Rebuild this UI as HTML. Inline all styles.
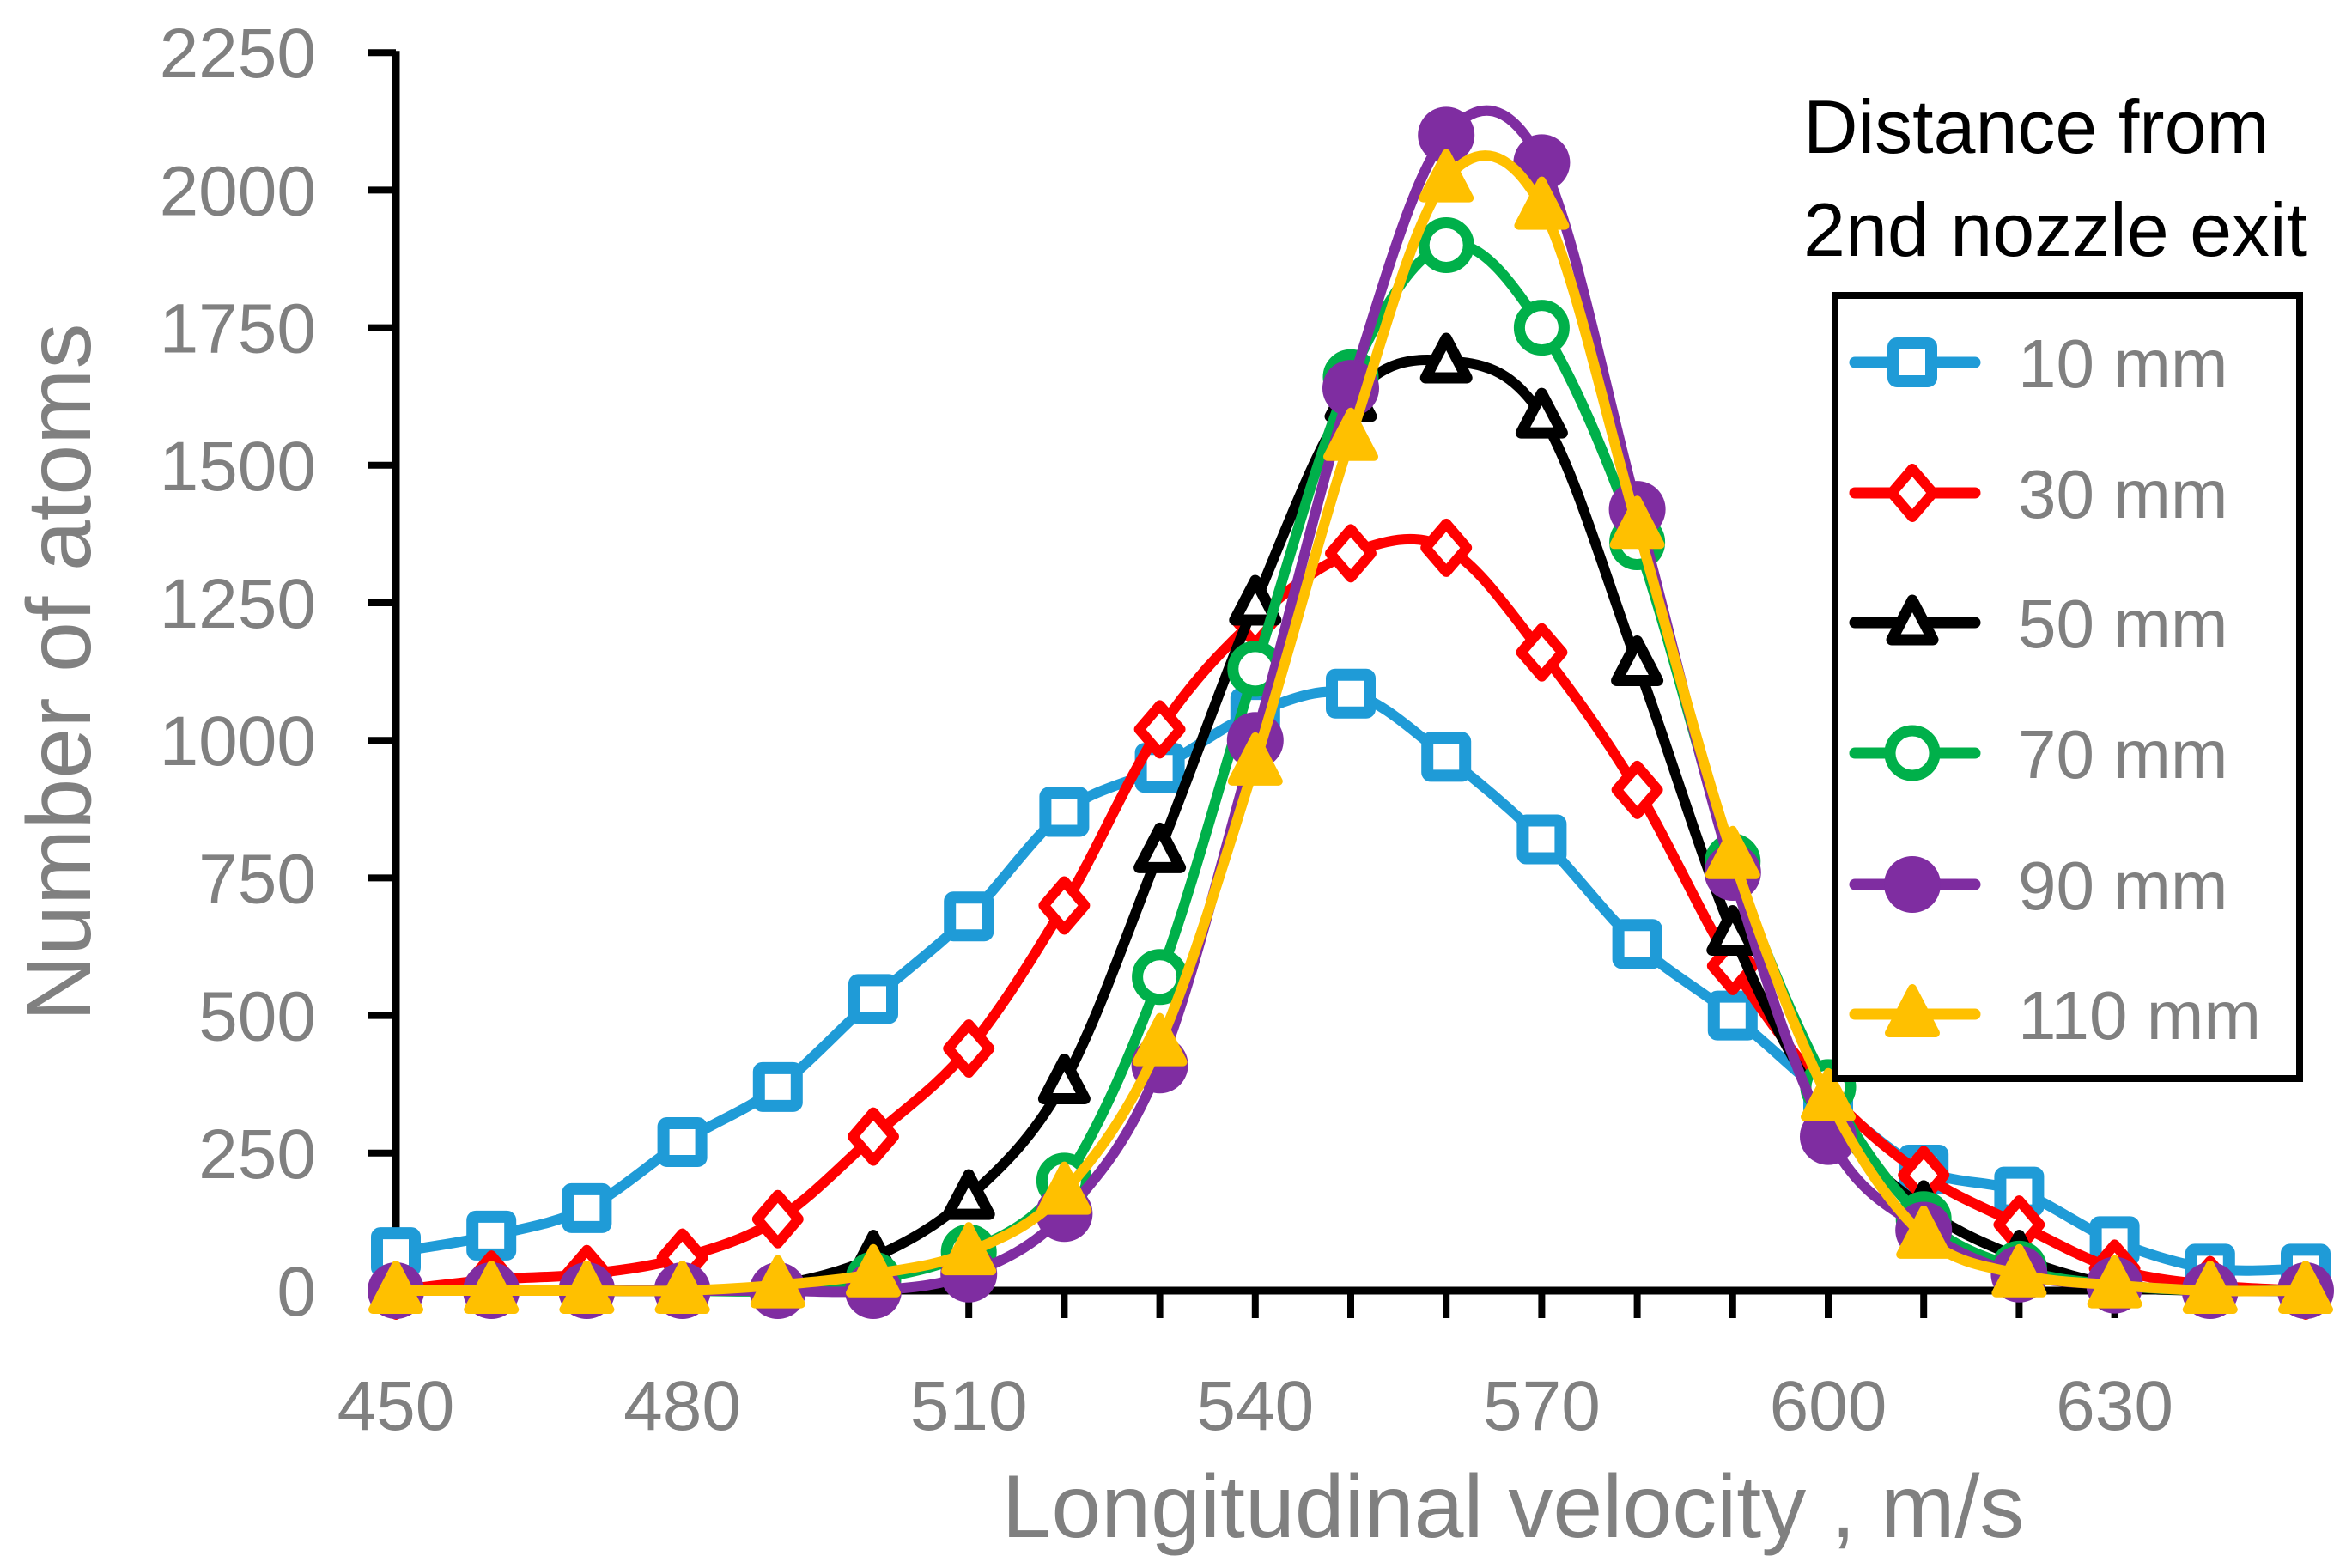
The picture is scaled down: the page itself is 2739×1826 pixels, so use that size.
<!DOCTYPE html>
<html><head><meta charset="utf-8"><style>
html,body{margin:0;padding:0;background:#fff;}
svg{display:block;font-family:"Liberation Sans",sans-serif;}
</style></head><body>
<svg id="chart" width="2739" height="1826" viewBox="0 0 2739 1826" xmlns="http://www.w3.org/2000/svg">
<g id="axes"></g>
<g id="series"></g>
<g id="legend"></g>
</svg>
<script>
const xValues = [450,460,470,480,490,500,510,520,530,540,550,560,570,580,590,600,610,620,630,640,650];
const seriesNames = ["10 mm","30 mm","50 mm","70 mm","90 mm","110 mm"];
const s10 = [70,100,150,270,370,530,680,870,950,1050,1085,970,820,630,500,350,220,180,90,40,40];
const s30 = [0,20,30,60,130,280,440,700,1020,1220,1340,1350,1160,910,590,360,210,120,40,10,0];
const s50 = [0,0,0,0,10,60,170,380,800,1250,1620,1690,1590,1140,650,320,150,60,10,0,0];
const s70 = [0,0,0,0,0,20,70,200,570,1130,1660,1900,1750,1360,780,370,130,40,10,0,0];
const s90 = [0,0,0,0,0,0,30,140,410,1000,1640,2100,2050,1420,760,280,110,30,10,0,0];
const s110 = [0,0,0,0,10,30,70,180,450,960,1550,2020,1970,1390,790,350,100,30,10,0,0];
const yTicks = [0,250,500,750,1000,1250,1500,1750,2000,2250];
const xTicks = [450,480,510,540,570,600,630];

const NS="http://www.w3.org/2000/svg";
const X0=461, XPER10=111.2, Y0=1503, YPER250=160.2;
const xs = v => X0 + (v-450)/10*XPER10;
const ys = v => Y0 - v/250*YPER250;
function mk(tag, attrs, parent){const e=document.createElementNS(NS,tag);for(const k in attrs)e.setAttribute(k,attrs[k]);parent.appendChild(e);return e;}
const axes=document.getElementById('axes'), ser=document.getElementById('series'), leg=document.getElementById('legend');
const GREY="#808080";

let e=mk('line',{x1:xs(450),y1:ys(2250)-2,x2:xs(450),y2:Y0,stroke:'#000','stroke-width':9},axes);


yTicks.forEach(t=>{
  let tk=mk('line',{x1:xs(450)-32,y1:ys(t),x2:xs(450),y2:ys(t),stroke:'#000','stroke-width':8},axes);
  
  
  let lb=mk('text',{x:368,y:ys(t)+29,'text-anchor':'end','font-size':82,fill:GREY},axes);
  lb.textContent=t;
  
  
});
e=mk('line',{x1:xs(450)-4,y1:Y0,x2:xs(650)+4,y2:Y0,stroke:'#000','stroke-width':9},axes);


xValues.forEach(v=>{
  let tk=mk('line',{x1:xs(v),y1:Y0,x2:xs(v),y2:Y0+32,stroke:'#000','stroke-width':8},axes);
  
  
});
xTicks.forEach(t=>{
  let lb=mk('text',{x:xs(t),y:1665,'text-anchor':'middle','font-size':82,fill:GREY},axes);
  lb.textContent=t;
  
  
});
let xt=mk('text',{x:1762,y:1790,'text-anchor':'middle','font-size':104,fill:GREY},axes);
xt.textContent="Longitudinal velocity ,  m/s";


let yt=mk('text',{x:0,y:0,'text-anchor':'middle','font-size':106,fill:GREY,transform:'translate(105,783) rotate(-90)'},axes);
yt.textContent="Number of atoms";



const colors=["#1f9bd7","#ff0000","#000000","#00b04a","#7f2da1","#ffc000"];
const markers=["square","diamond","triangle","circle","fcircle","ftriangle"];
const allData=[s10,s30,s50,s70,s90,s110];

function smoothPath(pts){
  let d=`M${pts[0][0]},${pts[0][1]}`;
  for(let i=0;i<pts.length-1;i++){
    const p0=pts[i-1]||pts[i],p1=pts[i],p2=pts[i+1],p3=pts[i+2]||p2;
    const t=6;
    const c1=[p1[0]+(p2[0]-p0[0])/t,p1[1]+(p2[1]-p0[1])/t];
    const c2=[p2[0]-(p3[0]-p1[0])/t,p2[1]-(p3[1]-p1[1])/t];
    d+=` C${c1[0]},${c1[1]} ${c2[0]},${c2[1]} ${p2[0]},${p2[1]}`;
  }
  return d;
}
function drawMarker(type,x,y,c,parent){
  let m;
  if(type==="square") m=mk('rect',{x:x-22,y:y-22,width:44,height:44,rx:4,fill:'#fff',stroke:c,'stroke-width':14},parent);
  else if(type==="diamond") m=mk('polygon',{points:`${x},${y-28} ${x+24},${y} ${x},${y+28} ${x-24},${y}`,fill:'#fff',stroke:c,'stroke-width':12,'stroke-linejoin':'round'},parent);
  else if(type==="triangle") m=mk('polygon',{points:`${x},${y-26} ${x+24},${y+20} ${x-24},${y+20}`,fill:'#fff',stroke:c,'stroke-width':13,'stroke-linejoin':'round'},parent);
  else if(type==="circle") m=mk('circle',{cx:x,cy:y,r:26,fill:'#fff',stroke:c,'stroke-width':13},parent);
  else if(type==="fcircle") m=mk('circle',{cx:x,cy:y,r:33,fill:c},parent);
  else m=mk('polygon',{points:`${x},${y-30} ${x+27},${y+22} ${x-27},${y+22}`,fill:c,stroke:c,'stroke-width':10,'stroke-linejoin':'round'},parent);
  
  
  return m;
}
allData.forEach((arr,si)=>{
  const g=mk('g',{},ser);
  
  
  const pts=arr.map((v,i)=>[xs(xValues[i]),ys(v)]);
  const p=mk('path',{d:smoothPath(pts),fill:'none',stroke:colors[si],'stroke-width':12,'stroke-linejoin':'round','stroke-linecap':'round'},g);
  
  
  pts.forEach(pt=>drawMarker(markers[si],pt[0],pt[1],colors[si],g));
});

let lt1=mk('text',{x:2100,y:178,'font-size':88,fill:'#000'},leg);
lt1.textContent="Distance from";


let lt2=mk('text',{x:2100,y:298,'font-size':88,fill:'#000'},leg);
lt2.textContent="2nd nozzle exit";


let box=mk('rect',{x:2137,y:344,width:541,height:912,fill:'#fff',stroke:'#000','stroke-width':8},leg);


const legY=[422,574,725,877,1030,1181];
seriesNames.forEach((n,i)=>{
  const g=mk('g',{},leg);
  
  
  mk('line',{x1:2160,y1:legY[i],x2:2300,y2:legY[i],stroke:colors[i],'stroke-width':13,'stroke-linecap':'round'},g);
  drawMarker(markers[i],2227,legY[i],colors[i],g);
  const t=mk('text',{x:2350,y:legY[i]+29,'font-size':80,fill:GREY},g);
  t.textContent=n;
});
</script>
</body></html>
